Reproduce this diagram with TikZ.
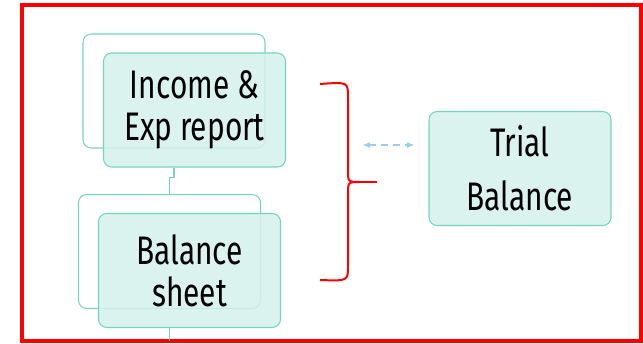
\documentclass[tikz,border=0pt]{standalone}
\usepackage{fontspec}
\setmainfont{Fira Sans}[FakeStretch=0.75]
\usepackage{tikz}
\usepackage{xcolor}
\usetikzlibrary{arrows.meta}

\definecolor{boxfill}{RGB}{213,241,235}
\definecolor{boxline}{RGB}{115,212,194}
\definecolor{arrowblue}{RGB}{155,205,232}

\begin{document}
\begin{tikzpicture}[x=0.03cm, y=-0.03cm,
	backbox/.style = {draw=boxline, line width=0.9pt, rounded corners=7pt, minimum width=5.46cm, minimum height=3.42cm, inner sep=0pt},
	frontbox/.style = {backbox, fill=boxfill, fill opacity=0.85, text opacity=1, align=center,
		font=\fontsize{34}{36}\selectfont, text=black},
	link/.style = {draw=boxline, line width=0.9pt},
	brace/.style = {draw=red, line width=1.7pt},
	]
	\useasboundingbox (0,0) rectangle (643,344);
	\draw [red, line width=2.6pt] (22,5) rectangle (641,341);
	
	\node [backbox] (out1) at (174,91) {};
	\node [frontbox] (inc) at (194.5,110) {Income \&\\Exp report};
	\node [backbox] (out2) at (169.5,251.5) {};
	\node [frontbox] (bal) at (189.5,270.5) {Balance\\sheet};
	\node [frontbox] (trial) at (520,168.5) {Trial\\[10pt]Balance};
	
	\coordinate (bottom) at (169.5,341);
	\draw [link] (out1.south |- inc.south) -- ++(0,10) -| (out2.north);
	\draw [link] (out2.south |- bal.south) -- (bottom);
	
	% brace round the two reports
	\draw [brace] (320,84) .. controls (348,82) .. (348,97) -- (348,170)
		.. controls (348,182) .. (360,182) -- (377,182) -- (360,182)
		.. controls (348,182) .. (348,194) -- (348,266)
		.. controls (348,281) .. (320,280);
	
	\coordinate (arrL) at (362,145);
	\coordinate (arrR) at (415,145);
	\draw [arrowblue, line width=2pt, dash pattern=on 6pt off 4pt, {Latex[length=7pt]}-{Latex[length=7pt]}] (arrL) -- (arrR);
\end{tikzpicture}
\end{document}
